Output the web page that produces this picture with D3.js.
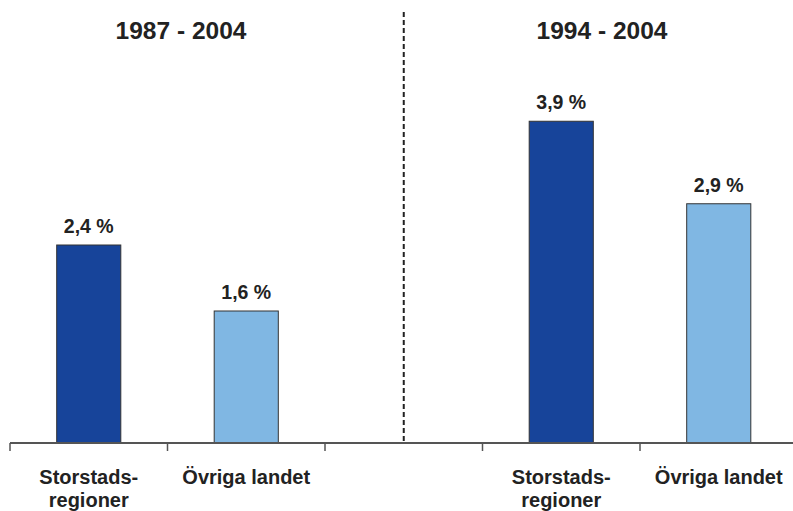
<!DOCTYPE html>
<html>
<head>
<meta charset="utf-8">
<script src="https://cdn.jsdelivr.net/npm/d3@7"></script>
<style>
  html, body { margin: 0; padding: 0; background: #fff; }
  svg { display: block; }
  text { font-family: "Liberation Sans", Arial, sans-serif; font-weight: bold; fill: #222; }
</style>
</head>
<body>
<svg id="chart" width="793" height="511"></svg>
<script>
// Average annual growth, two periods, two kinds of region
const periods = ["1987 - 2004", "1994 - 2004"];
const categories = ["Storstads-\nregioner", "Övriga landet"];
const storstadsValues = [2.4, 3.9];
const ovrigaValues = [1.6, 2.9];
const valueLabels = [["2,4 %", "1,6 %"], ["3,9 %", "2,9 %"]];

const colors = ["#17449a", "#80b7e3"];

const W = 793, H = 511;
const baseY = 443;
const svg = d3.select("#chart");

// Slots: two bars, an empty gap slot, two bars
const slots = ["p0c0", "p0c1", "gap", "p1c0", "p1c1"];
const x = d3.scaleBand().domain(slots).range([10, 797.5]).padding(0);
const y = d3.scaleLinear().domain([0, 5]).range([baseY, 30.5]);

const bars = [];
periods.forEach((p, pi) => {
  [storstadsValues[pi], ovrigaValues[pi]].forEach((v, ci) => {
    bars.push({ slot: `p${pi}c${ci}`, value: v, ci, label: valueLabels[pi][ci], cat: categories[ci] });
  });
});

const barW = x.bandwidth() * 0.407;

// Bars
svg.append("g").selectAll("rect").data(bars).join("rect")
  .attr("x", d => x(d.slot) + x.bandwidth() / 2 - barW / 2)
  .attr("y", d => y(d.value))
  .attr("width", barW)
  .attr("height", d => y(0) - y(d.value))
  .attr("fill", d => colors[d.ci])
  .attr("stroke", "#333")
  .attr("stroke-width", 1);

// Value labels
svg.append("g").selectAll("text").data(bars).join("text")
  .attr("x", d => x(d.slot) + x.bandwidth() / 2)
  .attr("y", d => y(d.value) - 12)
  .attr("text-anchor", "middle")
  .attr("font-size", 19.5)
  .text(d => d.label);

// Category axis: baseline and boundary ticks
const axis = svg.append("g");
axis.append("line")
  .attr("x1", x.range()[0]).attr("x2", W)
  .attr("y1", baseY).attr("y2", baseY)
  .attr("stroke", "#555").attr("stroke-width", 2);
const tickXs = slots.map(s => x(s)).concat([x.range()[1]]);
axis.selectAll("line.tick").data(tickXs).join("line")
  .attr("class", "tick")
  .attr("x1", d => d).attr("x2", d => d)
  .attr("y1", baseY).attr("y2", baseY + 8)
  .attr("stroke", "#555").attr("stroke-width", 1.5);

// Category labels
const catG = svg.append("g").selectAll("text").data(bars).join("text")
  .attr("text-anchor", "middle")
  .attr("font-size", 20)
  .attr("y", 484);
catG.selectAll("tspan").data(d => d.cat.split("\n").map(t => ({ t, cx: x(d.slot) + x.bandwidth() / 2 })))
  .join("tspan")
  .attr("x", d => d.cx)
  .attr("dy", (d, i) => i === 0 ? 0 : 23)
  .text(d => d.t);

// Period divider
const divX = x("gap") + x.bandwidth() / 2;
svg.append("line")
  .attr("x1", divX).attr("x2", divX)
  .attr("y1", 12).attr("y2", baseY - 2)
  .attr("stroke", "#222").attr("stroke-width", 2)
  .attr("stroke-dasharray", "5,3");

// Period titles
const titleX = [181, 602];
svg.append("g").selectAll("text").data(periods).join("text")
  .attr("x", (d, i) => titleX[i])
  .attr("y", 39)
  .attr("text-anchor", "middle")
  .attr("font-size", 24.5)
  .text(d => d);
</script>
</body>
</html>
